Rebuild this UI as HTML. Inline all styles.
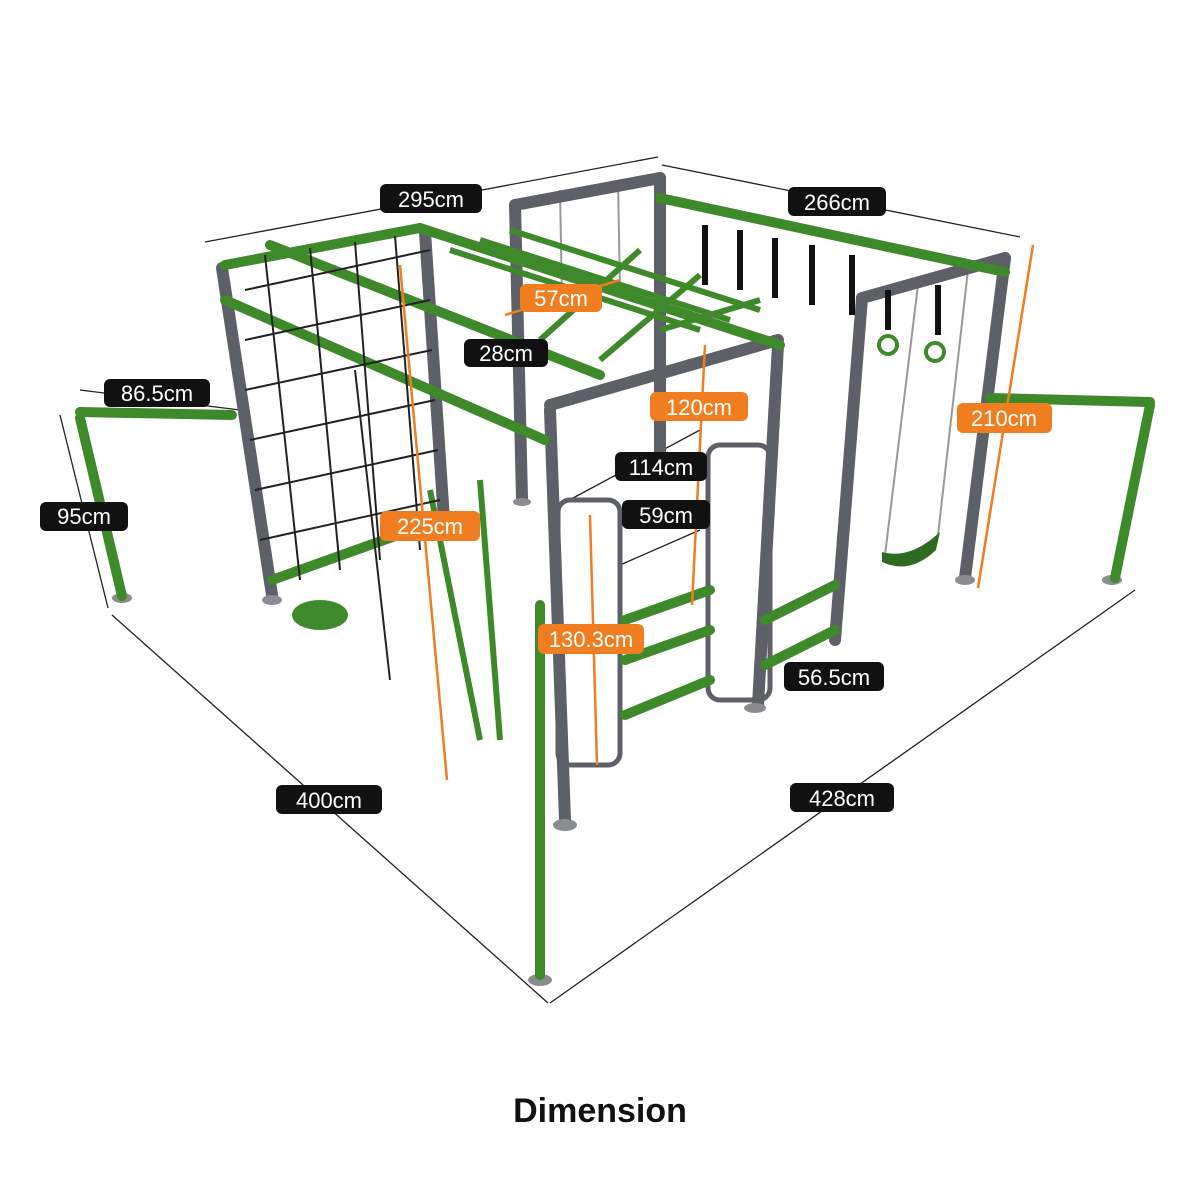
<!DOCTYPE html>
<html><head><meta charset="utf-8"><style>
html,body{margin:0;padding:0;background:#fff;width:1200px;height:1200px;overflow:hidden}
svg{display:block}
.t{font-family:"Liberation Sans",sans-serif;font-size:22px;fill:#fff;text-anchor:middle}
</style></head><body>
<svg width="1200" height="1200" viewBox="0 0 1200 1200">
<g stroke="#222" stroke-width="1.3" fill="none">
<line x1="205" y1="242" x2="658" y2="157"/>
<line x1="662" y1="165" x2="1020" y2="237"/>
<line x1="80" y1="390" x2="240" y2="410"/>
<line x1="60" y1="415" x2="108" y2="608"/>
<line x1="112" y1="615" x2="548" y2="1003"/>
<line x1="550" y1="1003" x2="1135" y2="590"/>
<line x1="560" y1="505" x2="700" y2="430"/>
<line x1="620" y1="565" x2="700" y2="530"/>
</g>
<!-- chains -->
<g stroke="#999" stroke-width="2" fill="none">
<line x1="560" y1="190" x2="562" y2="300"/><line x1="618" y1="180" x2="620" y2="290"/>
<line x1="918" y1="285" x2="885" y2="555"/><line x1="968" y1="270" x2="938" y2="535"/>
</g>
<g stroke="#5d6066" stroke-width="12" stroke-linecap="round" fill="none">
<line x1="222" y1="268" x2="272" y2="595"/>
<line x1="425" y1="232" x2="445" y2="535"/>
<line x1="515" y1="205" x2="522" y2="498"/>
<line x1="660" y1="178" x2="660" y2="475"/>
<line x1="550" y1="410" x2="565" y2="820"/>
<line x1="778" y1="345" x2="758" y2="705"/>
<line x1="862" y1="298" x2="835" y2="640"/>
<line x1="1005" y1="258" x2="965" y2="578"/>
<line x1="515" y1="205" x2="660" y2="178"/>
<line x1="550" y1="405" x2="778" y2="340"/>
<line x1="862" y1="298" x2="1005" y2="258"/>
</g>
<g stroke="#5d6066" stroke-width="5" fill="none">
<rect x="558" y="500" width="62" height="265" rx="12"/>
<rect x="708" y="445" width="62" height="255" rx="12"/>
</g>
<g fill="#8a8c90">
<ellipse cx="272" cy="600" rx="10" ry="5"/><ellipse cx="522" cy="502" rx="9" ry="4"/>
<ellipse cx="565" cy="825" rx="12" ry="6"/><ellipse cx="755" cy="708" rx="11" ry="5"/>
<ellipse cx="965" cy="580" rx="10" ry="5"/><ellipse cx="1112" cy="580" rx="10" ry="5"/>
<ellipse cx="122" cy="598" rx="10" ry="5"/><ellipse cx="540" cy="980" rx="12" ry="6"/>
</g>
<g stroke="#3e8a2b" stroke-width="10" stroke-linecap="round" fill="none">
<line x1="225" y1="265" x2="420" y2="228"/>
<line x1="225" y1="300" x2="545" y2="440"/>
<line x1="420" y1="228" x2="780" y2="345"/>
<line x1="270" y1="245" x2="600" y2="375"/>
<line x1="660" y1="198" x2="1005" y2="272"/>
<line x1="990" y1="398" x2="1150" y2="402"/>
<line x1="1150" y1="405" x2="1115" y2="578"/>
<line x1="80" y1="412" x2="232" y2="415"/>
<line x1="80" y1="418" x2="122" y2="596"/>
<line x1="540" y1="605" x2="540" y2="975"/>
<line x1="272" y1="580" x2="440" y2="520"/>
<line x1="625" y1="620" x2="710" y2="590"/>
<line x1="625" y1="660" x2="710" y2="630"/>
<line x1="625" y1="715" x2="710" y2="680"/>
<line x1="765" y1="620" x2="835" y2="585"/>
<line x1="765" y1="665" x2="835" y2="630"/>
</g>
<g stroke="#3e8a2b" stroke-width="6" fill="none">
<line x1="450" y1="250" x2="700" y2="330"/>
<line x1="480" y1="240" x2="730" y2="320"/>
<line x1="510" y1="230" x2="760" y2="310"/>
<line x1="540" y1="340" x2="640" y2="250"/>
<line x1="600" y1="360" x2="700" y2="275"/>
<line x1="660" y1="330" x2="760" y2="300"/>
<line x1="430" y1="490" x2="480" y2="740"/>
<line x1="480" y1="480" x2="500" y2="740"/>
</g>
<ellipse cx="320" cy="615" rx="28" ry="15" fill="#3e8a2b"/>
<path d="M882 552 Q910 560 940 532 L936 550 Q910 575 882 562Z" fill="#2e6b22"/>
<g stroke="#222" stroke-width="2" fill="none">
<line x1="245" y1="290" x2="430" y2="250"/><line x1="245" y1="340" x2="430" y2="300"/>
<line x1="245" y1="390" x2="432" y2="350"/><line x1="250" y1="440" x2="435" y2="400"/>
<line x1="255" y1="490" x2="438" y2="450"/><line x1="260" y1="540" x2="440" y2="500"/>
<line x1="265" y1="255" x2="300" y2="580"/><line x1="310" y1="248" x2="340" y2="570"/>
<line x1="355" y1="242" x2="380" y2="560"/><line x1="395" y1="236" x2="420" y2="550"/>
<line x1="355" y1="370" x2="390" y2="680"/>
</g>
<g stroke="#111" stroke-width="6">
<line x1="705" y1="225" x2="705" y2="285"/><line x1="740" y1="230" x2="740" y2="290"/>
<line x1="775" y1="238" x2="775" y2="298"/><line x1="812" y1="245" x2="812" y2="305"/>
<line x1="852" y1="255" x2="852" y2="315"/><line x1="888" y1="290" x2="888" y2="330"/>
<line x1="938" y1="285" x2="938" y2="335"/>
</g>
<g stroke="#3e8a2b" stroke-width="4" fill="none">
<circle cx="888" cy="345" r="9"/><circle cx="935" cy="352" r="9"/>
</g>
<g stroke="#f07d20" stroke-width="2.5">
<line x1="400" y1="265" x2="447" y2="780"/>
<line x1="705" y1="345" x2="692" y2="605"/>
<line x1="1033" y1="245" x2="978" y2="588"/>
<line x1="590" y1="515" x2="597" y2="765"/>
<line x1="505" y1="315" x2="620" y2="280"/>
</g>
<g fill="#111">
<rect x="380" y="184" width="102" height="29" rx="6"/>
<rect x="788" y="187" width="98" height="29" rx="6"/>
<rect x="464" y="339" width="84" height="28" rx="6"/>
<rect x="104" y="379" width="106" height="28" rx="6"/>
<rect x="615" y="452" width="92" height="29" rx="6"/>
<rect x="40" y="502" width="88" height="29" rx="6"/>
<rect x="622" y="500" width="88" height="29" rx="6"/>
<rect x="784" y="662" width="100" height="29" rx="6"/>
<rect x="276" y="785" width="106" height="29" rx="6"/>
<rect x="790" y="783" width="104" height="29" rx="6"/>
</g>
<g fill="#f07d20">
<rect x="520" y="284" width="82" height="28" rx="6"/>
<rect x="650" y="392" width="98" height="29" rx="6"/>
<rect x="957" y="403" width="95" height="30" rx="6"/>
<rect x="380" y="511" width="100" height="30" rx="6"/>
<rect x="538" y="624" width="106" height="30" rx="6"/>
</g>
<g class="t">
<text x="431" y="207">295cm</text>
<text x="837" y="210">266cm</text>
<text x="506" y="361">28cm</text>
<text x="157" y="401">86.5cm</text>
<text x="661" y="475">114cm</text>
<text x="84" y="524">95cm</text>
<text x="666" y="523">59cm</text>
<text x="834" y="685">56.5cm</text>
<text x="329" y="808">400cm</text>
<text x="842" y="806">428cm</text>
<text x="561" y="306">57cm</text>
<text x="699" y="415">120cm</text>
<text x="1004" y="426">210cm</text>
<text x="430" y="534">225cm</text>
<text x="591" y="647">130.3cm</text>
</g>
<text x="600" y="1122" font-family="Liberation Sans,sans-serif" font-weight="bold" font-size="34" text-anchor="middle" fill="#111">Dimension</text>
</svg>
</body></html>
